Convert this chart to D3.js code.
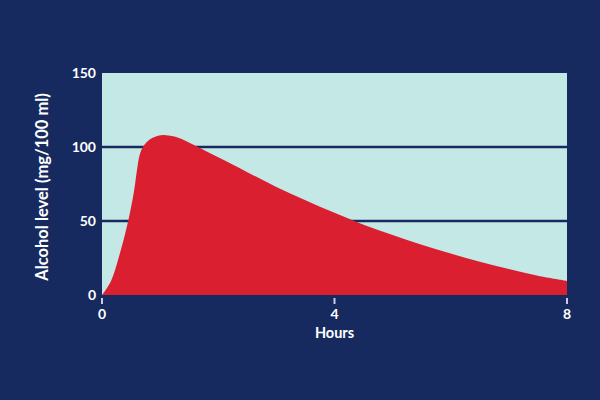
<!DOCTYPE html>
<html>
<head>
<meta charset="utf-8">
<script src="https://cdn.jsdelivr.net/npm/d3@7"></script>
<style>
  html, body { margin: 0; padding: 0; background: #172a5f; }
  svg { display: block; }
  text { font-family: Lato, "Open Sans", sans-serif; font-weight: 700; fill: #ffffff; }
</style>
</head>
<body>
<script>
const hours  = [0, 0.15, 0.3, 0.45, 0.55, 0.6, 0.65, 0.72, 0.82, 0.95, 1.1, 1.3, 1.6, 2.0, 2.5, 3.0, 3.5, 4.0, 4.5, 5.0, 5.5, 6.0, 6.5, 7.0, 7.5, 8.0];
const levels = [0, 9, 27, 50, 70, 84, 95, 101, 105, 107.5, 108, 106.5, 101, 93, 83, 73, 64, 55.5, 47.5, 40.5, 34, 28, 22.5, 17.5, 13, 9.5];
const xTicks = [0, 4, 8];
const yTicks = [0, 50, 100, 150];
const xTitle = "Hours";
const yTitle = "Alcohol level (mg/100 ml)";

const W = 600, H = 400;
const m = { left: 102, right: 33, top: 73, bottom: 105 };

const svg = d3.select("body").append("svg").attr("width", W).attr("height", H);
svg.append("rect").attr("width", W).attr("height", H).attr("fill", "#172a5f");

const x = d3.scaleLinear().domain([0, 8]).range([m.left, W - m.right]);
const y = d3.scaleLinear().domain([0, 150]).range([H - m.bottom, m.top]);

// plot background
svg.append("rect")
  .attr("x", x(0)).attr("y", y(150))
  .attr("width", x(8) - x(0)).attr("height", y(0) - y(150))
  .attr("fill", "#c4e8e6");

// gridlines
svg.append("g").selectAll("line").data(yTicks.filter(d => d > 0 && d < 150)).join("line")
  .attr("x1", x(0)).attr("x2", x(8))
  .attr("y1", d => y(d)).attr("y2", d => y(d))
  .attr("stroke", "#172a5f").attr("stroke-width", 2.5);

// area
const pts = hours.map((h, i) => [h, levels[i]]);
const area = d3.area()
  .x(d => x(d[0])).y0(y(0)).y1(d => y(d[1]))
  .curve(d3.curveCatmullRom.alpha(0.5));
svg.append("path").datum(pts).attr("d", area).attr("fill", "#da1f30");

// y axis labels
svg.append("g").selectAll("text").data(yTicks).join("text")
  .attr("x", x(0) - 6).attr("y", d => y(d)).attr("dy", "0.35em")
  .attr("text-anchor", "end").attr("font-size", 14)
  .text(d => d);

// x axis ticks
svg.append("g").selectAll("line").data(xTicks).join("line")
  .attr("x1", d => x(d)).attr("x2", d => x(d))
  .attr("y1", y(0) + 3).attr("y2", y(0) + 9)
  .attr("stroke", "#c9c9ee").attr("stroke-width", 2);
svg.append("g").selectAll("text").data(xTicks).join("text")
  .attr("x", d => x(d)).attr("y", y(0) + 24)
  .attr("text-anchor", "middle").attr("font-size", 14)
  .text(d => d);

svg.append("text").attr("x", x(4)).attr("y", y(0) + 43)
  .attr("text-anchor", "middle").attr("font-size", 14.5).text(xTitle);

svg.append("text")
  .attr("transform", `translate(48, ${(y(0) + y(150)) / 2 + 3}) rotate(-90)`)
  .attr("text-anchor", "middle").attr("font-size", 16.5).text(yTitle);
</script>
</body>
</html>
